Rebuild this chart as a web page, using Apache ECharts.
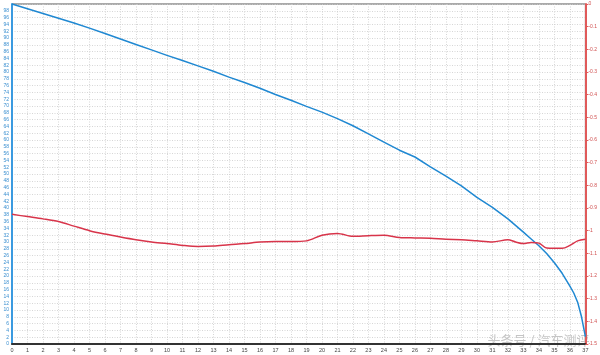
<!DOCTYPE html>
<html>
<head>
<meta charset="utf-8">
<script src="https://cdn.jsdelivr.net/npm/echarts@6/dist/echarts.min.js"></script>
<style>
html,body{margin:0;padding:0;background:#fff;}
#c{width:600px;height:355px;}
</style>
</head>
<body>
<div id="c"></div>
<script>
// X positions (shared index scale 0..37)
const blueX = [0,1,2,3,4,5,6,7,8,9,10,11,12,13,14,15,16,17,18,19,20,21,22,23,24,25,26,27,28,29,30,31,32,33,33.5,34,34.5,35,35.5,36,36.25,36.5,36.75,37];
const blueY = [100,98.6,97.2,95.8,94.4,92.9,91.3,89.7,88.1,86.5,84.9,83.4,81.8,80.2,78.5,76.9,75.2,73.4,71.7,69.9,68.2,66.3,64.2,61.8,59.4,57.0,55.0,52.1,49.4,46.5,43.1,40.2,36.8,32.9,30.9,28.9,26.6,23.9,20.8,17.0,15.0,12.3,8.0,2.2];
const redX = [0,1,2,3,4,5,6,7,8,9,10,11,12,13,14,15,16,17,18,19,20,21,22,23,24,25,26,27,28,29,30,31,32,32.5,33,33.5,34,34.5,35,35.5,36,36.5,37];
const redY = [-0.928,-0.938,-0.948,-0.96,-0.98,-1.0,-1.015,-1.028,-1.04,-1.05,-1.057,-1.065,-1.07,-1.068,-1.062,-1.057,-1.05,-1.048,-1.048,-1.045,-1.02,-1.012,-1.025,-1.022,-1.02,-1.03,-1.032,-1.033,-1.038,-1.04,-1.045,-1.05,-1.04,-1.05,-1.057,-1.052,-1.055,-1.077,-1.078,-1.078,-1.065,-1.045,-1.038];
const watermark = "头条号 / 汽车测评";

const chart = echarts.init(document.getElementById('c'));
const pair = (xs, ys) => xs.map((x, i) => [x, ys[i]]);
chart.setOption({
  animation: false,
  backgroundColor: '#fff',
  grid: {left: 12, right: 14, top: 4, bottom: 11, show: true, borderColor: '#555', borderWidth: 1},
  xAxis: {
    type: 'value', min: 0, max: 37, interval: 1,
    axisLine: {show: true, lineStyle: {color: '#333', width: 2}},
    axisTick: {show: false},
    axisLabel: {fontSize: 5.5, color: '#444', margin: 3, fontFamily: 'Liberation Sans'},
    splitLine: {show: true, lineStyle: {color: '#ccc', type: [1, 1.5], width: 0.8}}
  },
  yAxis: [{
    type: 'value', min: 0, max: 100, interval: 2, position: 'left',
    axisLine: {show: true, lineStyle: {color: '#3a9ae0', width: 2}},
    axisTick: {show: false},
    axisLabel: {fontSize: 5, color: '#3a8fd0', margin: 3, showMaxLabel: false, fontFamily: 'Liberation Sans'},
    splitLine: {show: true, lineStyle: {color: '#ccc', type: [1, 1.5], width: 0.8}}
  }, {
    type: 'value', min: -1.5, max: 0, interval: 0.1, position: 'right',
    axisLine: {show: true, lineStyle: {color: '#e05a5a', width: 2}},
    axisTick: {show: true, length: 3, lineStyle: {color: '#e05a5a'}},
    axisLabel: {fontSize: 5, color: '#d05050', margin: 3, fontFamily: 'Liberation Sans',
      formatter: v => String(Math.round(v * 10) / 10)},
    splitLine: {show: false}
  }],
  series: [{
    type: 'line', yAxisIndex: 0, data: pair(blueX, blueY), showSymbol: false,
    lineStyle: {color: '#1f88d2', width: 1.5}
  }, {
    type: 'line', yAxisIndex: 1, data: pair(redX, redY), showSymbol: false, smooth: 0.3,
    lineStyle: {color: '#d8344a', width: 1.5}
  }],
  graphic: [{
    type: 'text', left: 487, top: 333, silent: true,
    style: {text: watermark, fontSize: 13, fill: 'rgba(150,150,150,0.55)', fontFamily: 'Noto Sans CJK SC',
      stroke: 'rgba(255,255,255,0.6)', lineWidth: 1}
  }]
});
</script>
</body>
</html>
